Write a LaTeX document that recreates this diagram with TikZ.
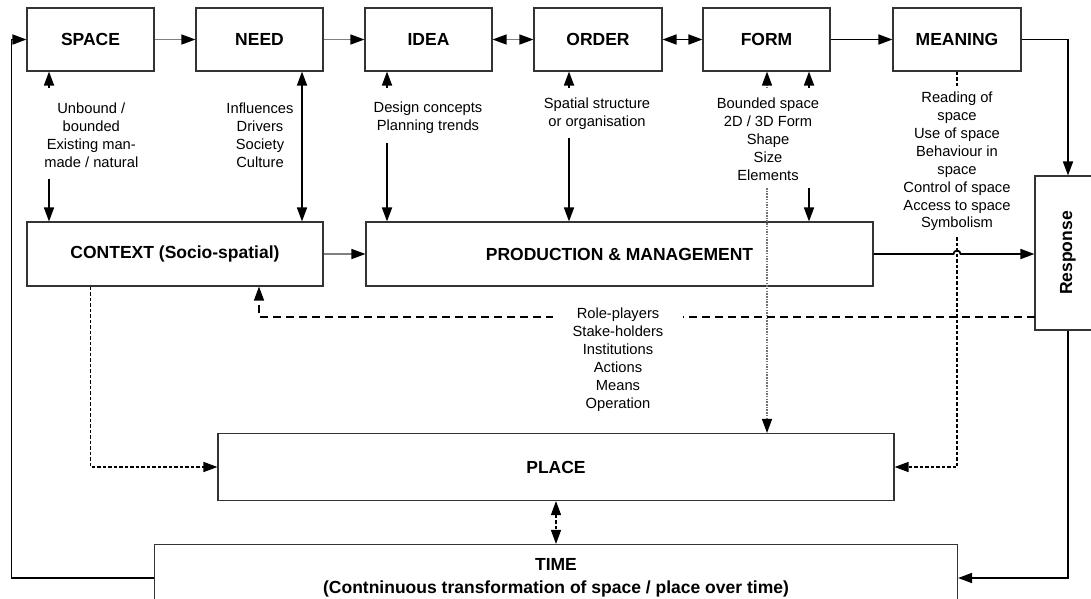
\documentclass[tikz,border=0pt]{standalone}
\usepackage{fontspec}
\setmainfont{Liberation Sans}
\usetikzlibrary{arrows.meta,calc}
\begin{document}
\begin{tikzpicture}[x=1pt,y=-1pt,
  box/.style={draw=black!80,line width=1.1pt,inner sep=0pt,font=\bfseries\fontsize{17.5}{21}\selectfont},
  lbl/.style={align=center,inner sep=0pt,font=\fontsize{14.7}{17.9}\selectfont},
  tipend/.style={-{Triangle[length=14pt,width=10pt,color=black]}},
  tipboth/.style={{Triangle[length=14pt,width=10pt,color=black]}-{Triangle[length=14pt,width=10pt,color=black]}},
  gln/.style={draw=black!50,line width=1.4pt},
  bln/.style={draw=black,line width=1.7pt},
  sdash/.style={draw=black,line width=1.3pt,dash pattern=on 3.5pt off 2pt},
  ldash/.style={draw=black,line width=1.2pt,dash pattern=on 8pt off 5pt},
  gdot/.style={draw=black!55,line width=1.3pt,dash pattern=on 1.5pt off 1.2pt},
]
\clip (0,0) rectangle (1091,598);
\fill[white] (0,0) rectangle (1091,598);

% top row
\node[box,minimum width=127pt,minimum height=63pt] (space) at (90.5,39.5) {SPACE};
\node[box,minimum width=127pt,minimum height=63pt] (need) at (259.5,39.5) {NEED};
\node[box,minimum width=127pt,minimum height=63pt] (idea) at (428.5,39.5) {IDEA};
\node[box,minimum width=128pt,minimum height=63pt] (order) at (598,39.5) {ORDER};
\node[box,minimum width=127pt,minimum height=63pt] (form) at (766.5,39.5) {FORM};
\node[box,minimum width=128pt,minimum height=63pt] (meaning) at (957,39.5) {MEANING};

% middle row
\node[box,minimum width=296pt,minimum height=64pt] (context) at (175,254) {CONTEXT (Socio-spatial)};
\node[box,minimum width=507pt,minimum height=64pt] (prod) at (619.5,254) {PRODUCTION \& MANAGEMENT};
\node[box,minimum width=66pt,minimum height=154pt] (resp) at (1068,253) {};
\node[rotate=90,inner sep=0pt,font=\bfseries\fontsize{17.5}{21}\selectfont] (resptext) at (resp.center) {Response};

% bottom rows
\node[box,minimum width=676pt,minimum height=67pt] (place) at (556,467) {PLACE};
\node[box,minimum width=803pt,minimum height=67pt,align=center,font=\bfseries\fontsize{17.5}{22.5}\selectfont] (time) at (556,578) {TIME\\(Contninuous transformation of space / place over time)};

% labels
\node[lbl] (lspace) at (91.3,135.5) {Unbound /\\bounded\\Existing man-\\made / natural};
\node[lbl] (lneed) at (260,135.5) {Influences\\Drivers\\Society\\Culture};
\node[lbl] (lidea) at (428,117.5) {Design concepts\\Planning trends};
\node[lbl] (lorder) at (597,114) {Spatial structure\\or organisation};
\node[lbl] (lform) at (768,139) {Bounded space\\2D / 3D Form\\Shape\\Size\\Elements};
\node[lbl] (lmeaning) at (957,161.5) {Reading of\\space\\Use of space\\Behaviour in\\space\\Control of space\\Access to space\\Symbolism};

% coordinates
\coordinate (s1) at (49,88);  \coordinate (s2) at (49,179);
\coordinate (n1) at (302,0);
\coordinate (i1) at (387,88); \coordinate (i2) at (387,143);
\coordinate (o1) at (569,88); \coordinate (o2) at (569,138);
\coordinate (f1) at (767,88); \coordinate (f2) at (809,88);
\coordinate (f3) at (809,188); \coordinate (f4) at (767,188);
\coordinate (m1) at (957,88); \coordinate (m2) at (957,237);
\coordinate (lc) at (11.6,0);
\coordinate (c1) at (259,0); \coordinate (c2) at (90.5,0);
\coordinate (r1) at (1035,317);

% top horizontal connectors
\draw[gln,tipend] (space.east) -- (need.west);
\draw[gln,tipend] (need.east) -- (idea.west);
\draw[gln,tipboth] (idea.east) -- (order.west);
\draw[bln,tipboth] (order.east) -- (form.west);
\draw[bln,tipend] (form.east) -- (meaning.west);
\draw[bln,tipend] (meaning.east) -| (resp.north);
\draw[bln,tipend] (resp.south) |- (time.east);
\draw[bln,tipend] (time.west) -- (time.west -| lc) |- (space.west);

% verticals
\draw[bln,tipend] (s1) -- (s1 |- space.south);
\draw[bln,tipend] (s2) -- (s2 |- context.north);
\draw[bln,tipboth] (n1 |- need.south) -- (n1 |- context.north);
\draw[bln,tipend] (i1) -- (i1 |- idea.south);
\draw[bln,tipend] (i2) -- (i2 |- prod.north);
\draw[bln,tipend] (o1) -- (o1 |- order.south);
\draw[bln,tipend] (o2) -- (o2 |- prod.north);
\draw[gdot,tipend] (f1) -- (f1 |- form.south);
\draw[bln,tipend] (f2) -- (f2 |- form.south);
\draw[bln,tipend] (f3) -- (f3 |- prod.north);
\draw[gdot,tipend] (f4) -- (f4 |- place.north);
\draw[sdash] (m1 |- meaning.south) -- (m1);
\draw[sdash,tipend] (m2) |- (place.east);

% middle connectors
\draw[gln,tipend] (context.east) -- (prod.west);
\draw[bln,tipend] (prod.east) -- ($(m2 |- prod.east)+(-3.5,0)$) arc[start angle=180,end angle=0,radius=3.5pt] -- (resp.west |- prod.east);
\draw[ldash,tipend] (r1) -| (c1 |- context.south);
\node[lbl,fill=white,minimum width=130pt,anchor=north,inner ysep=2pt] (lprod) at (618,306) {Role-players\\Stake-holders\\Institutions\\Actions\\Means\\Operation};
\draw[sdash,tipend] (c2 |- context.south) |- (place.west);
\draw[sdash,tipboth] (place.south) -- (time.north);
\end{tikzpicture}
\end{document}
